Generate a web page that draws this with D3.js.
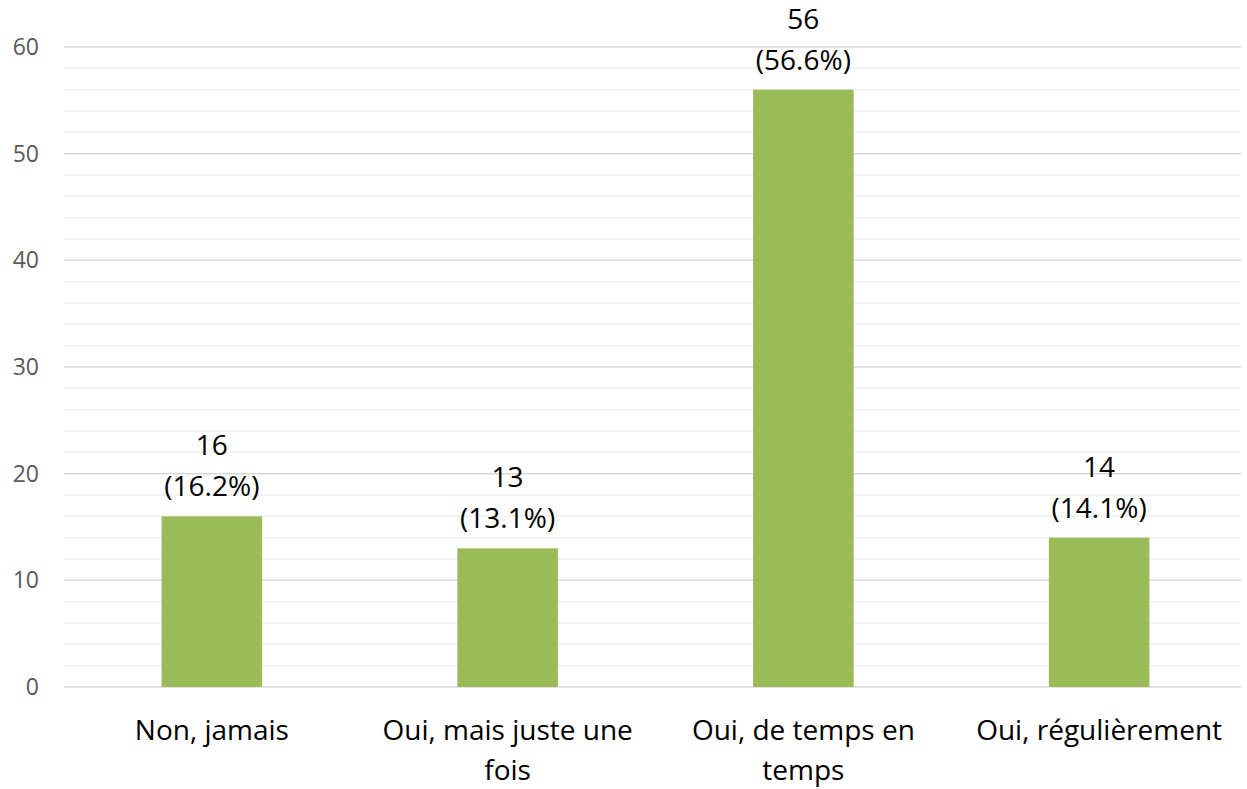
<!DOCTYPE html>
<html>
<head>
<meta charset="utf-8">
<script src="https://cdn.jsdelivr.net/npm/d3@7"></script>
<style>
  body { margin: 0; background: #fff; }
  text { font-family: "Open Sans", "Noto Sans", sans-serif; }
</style>
</head>
<body>
<div id="chart"></div>
<script>
// Data
const categories = ["Non, jamais", "Oui, mais juste une fois", "Oui, de temps en temps", "Oui, régulièrement"];
const categoryLines = [["Non, jamais"], ["Oui, mais juste une", "fois"], ["Oui, de temps en", "temps"], ["Oui, régulièrement"]];
const counts = [16, 13, 56, 14];
const percents = ["16.2%", "13.1%", "56.6%", "14.1%"];
const majorTicks = [0, 10, 20, 30, 40, 50, 60];
const minorTicks = d3.range(0, 61, 2);

const width = 1247, height = 789;
const margin = {top: 47, right: 0, bottom: 102, left: 64};

const svg = d3.select("#chart").append("svg")
    .attr("width", width)
    .attr("height", height);

const g = svg.append("g")
    .attr("transform", `translate(${margin.left},${margin.top})`);

const innerW = width - margin.left - margin.right;
const innerH = height - margin.top - margin.bottom;

const x = d3.scaleBand()
    .domain(categories)
    .range([0, innerW])
    .paddingInner(0.66)
    .paddingOuter(0.33);

const y = d3.scaleLinear()
    .domain([0, 60])
    .range([innerH, 0]);

// Minor gridlines
g.selectAll(".minor")
    .data(minorTicks.filter(d => d % 10 !== 0))
    .enter().append("line")
    .attr("x1", 0).attr("x2", innerW - 6)
    .attr("y1", d => y(d)).attr("y2", d => y(d))
    .attr("stroke", "#f0f0f0")
    .attr("stroke-width", 1.5);

// Major gridlines
g.selectAll(".major")
    .data(majorTicks)
    .enter().append("line")
    .attr("x1", 0).attr("x2", innerW - 6)
    .attr("y1", d => y(d)).attr("y2", d => y(d))
    .attr("stroke", "#d9d9d9")
    .attr("stroke-width", 1.5);

// Y axis labels
g.selectAll(".ytick")
    .data(majorTicks)
    .enter().append("text")
    .attr("x", -25)
    .attr("y", d => y(d))
    .attr("dy", "0.35em")
    .attr("text-anchor", "end")
    .attr("font-size", 23)
    .attr("fill", "#595959")
    .text(d => d);

// Bars
g.selectAll(".bar")
    .data(counts)
    .enter().append("rect")
    .attr("x", (d, i) => x(categories[i]))
    .attr("y", d => y(d))
    .attr("width", x.bandwidth())
    .attr("height", d => innerH - y(d))
    .attr("fill", "#9bbb59");

// Value labels
const labels = g.selectAll(".vlabel")
    .data(counts)
    .enter().append("text")
    .attr("text-anchor", "middle")
    .attr("font-size", 28)
    .attr("fill", "#000");

labels.append("tspan")
    .attr("x", (d, i) => x(categories[i]) + x.bandwidth() / 2)
    .attr("y", d => y(d) - 61)
    .text(d => d);

labels.append("tspan")
    .attr("x", (d, i) => x(categories[i]) + x.bandwidth() / 2)
    .attr("y", d => y(d) - 20)
    .text((d, i) => "(" + percents[i] + ")");

// Category labels
const cats = g.selectAll(".clabel")
    .data(categoryLines)
    .enter().append("text")
    .attr("text-anchor", "middle")
    .attr("font-size", 28)
    .attr("fill", "#000");

cats.selectAll("tspan")
    .data((d, i) => d.map(line => ({line, i})))
    .enter().append("tspan")
    .attr("x", d => x(categories[d.i]) + x.bandwidth() / 2)
    .attr("y", (d, j) => innerH + 53 + j * 40)
    .text(d => d.line);
</script>
</body>
</html>
